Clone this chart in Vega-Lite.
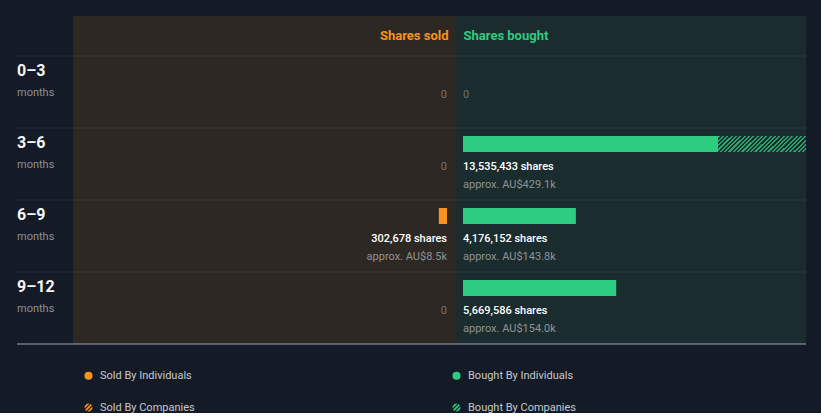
{
  "$schema": "https://vega.github.io/schema/vega-lite/v6.json",
  "background": "#151b26",
  "padding": {"left": 16, "top": 16, "right": 16, "bottom": 0},
  "config": {
    "view": {"stroke": null},
    "font": "Roboto",
    "legend": {
      "orient": "none",
      "legendX": 66,
      "legendY": 354,
      "columns": 2,
      "columnPadding": 256,
      "rowPadding": 20,
      "labelFont": "Roboto",
      "labelFontSize": 11,
      "labelColor": "#c5c9ce",
      "labelOffset": 6,
      "symbolSize": 66,
      "symbolStrokeWidth": 0,
      "symbolOpacity": 1
    }
  },
  "datasets": {
    "periods": [
      {"period": "0–3", "sold": 0, "soldValue": 0, "boughtInd": 0, "bought": 0, "boughtValue": 0},
      {"period": "3–6", "sold": 0, "soldValue": 0, "boughtInd": 9435000, "bought": 13535433, "boughtValue": 429100},
      {"period": "6–9", "sold": 302678, "soldValue": 8500, "boughtInd": 4176152, "bought": 4176152, "boughtValue": 143800},
      {"period": "9–12", "sold": 0, "soldValue": 0, "boughtInd": 5669586, "bought": 5669586, "boughtValue": 154000}
    ],
    "legendItems": [
      {"type": "Sold By Individuals"},
      {"type": "Sold By Companies"},
      {"type": "Bought By Individuals"},
      {"type": "Bought By Companies"}
    ]
  },
  "spacing": 0,
  "bounds": "flush",
  "vconcat": [
    {
      "spacing": 0,
      "bounds": "flush",
      "hconcat": [
        {
          "width": 56,
          "height": 328,
          "data": {"name": "periods"},
          "encoding": {
            "y": {"field": "period", "type": "nominal", "axis": null,
                  "scale": {"domain": ["0–3", "3–6", "6–9", "9–12"], "paddingInner": 0, "paddingOuter": 0.277778, "align": 1}}
          },
          "layer": [
            {
              "mark": {"type": "rule", "color": "#ffffff", "opacity": 0.08},
              "encoding": {"y": {"field": "period", "type": "nominal", "bandPosition": 0, "axis": null}}
            },
            {
              "transform": [{"filter": "datum.period === '9–12'"}],
              "mark": {"type": "rule", "color": "#9ea3a9", "strokeWidth": 1.2},
              "encoding": {"y": {"field": "period", "type": "nominal", "bandPosition": 1, "axis": null}}
            },
            {
              "mark": {"type": "text", "align": "left", "baseline": "alphabetic", "dy": -16, "fontSize": 16, "fontWeight": "bold", "color": "#f5f6f7"},
              "encoding": {"x": {"value": 0}, "text": {"field": "period"}}
            },
            {
              "mark": {"type": "text", "align": "left", "baseline": "alphabetic", "dy": 4, "fontSize": 11, "color": "#8c9096", "text": "months"},
              "encoding": {"x": {"value": 0}}
            }
          ]
        },
        {
          "width": 383,
          "height": 328,
          "view": {"fill": "#2d2823"},
          "data": {"name": "periods"},
          "encoding": {
            "y": {"field": "period", "type": "nominal", "axis": null,
                  "scale": {"domain": ["0–3", "3–6", "6–9", "9–12"], "paddingInner": 0, "paddingOuter": 0.277778, "align": 1}}
          },
          "layer": [
            {
              "mark": {"type": "rule", "color": "#ffffff", "opacity": 0.08},
              "encoding": {"y": {"field": "period", "type": "nominal", "bandPosition": 0, "axis": null}}
            },
            {
              "transform": [{"filter": "datum.period === '9–12'"}],
              "mark": {"type": "rule", "color": "#9ea3a9", "strokeWidth": 1.2},
              "encoding": {"y": {"field": "period", "type": "nominal", "bandPosition": 1, "axis": null}}
            },
            {
              "transform": [{"filter": "datum.sold > 0"}],
              "mark": {"type": "bar", "color": "#f7931e", "height": 16, "yOffset": -20},
              "encoding": {
                "x": {"field": "sold", "type": "quantitative",
                      "scale": {"domain": [-333000, 13838000], "reverse": true, "nice": false, "zero": false},
                      "axis": {"orient": "top", "title": "Shares sold", "labels": false, "ticks": false, "domain": false, "grid": false,
                               "titleColor": "#f7931e", "titleFont": "Roboto", "titleFontSize": 13, "titleFontWeight": "bold",
                               "titleAlign": "right", "titleBaseline": "alphabetic", "titleX": 375, "titleY": 23}}
              }
            },
            {
              "transform": [{"filter": "datum.sold > 0"}, {"calculate": "format(datum.sold, ',') + ' shares'", "as": "lbl"}],
              "mark": {"type": "text", "align": "right", "baseline": "alphabetic", "dy": 6, "fontSize": 11, "fontWeight": 500, "color": "#ffffff"},
              "encoding": {"x": {"datum": 0, "type": "quantitative"}, "text": {"field": "lbl"}}
            },
            {
              "transform": [{"filter": "datum.sold > 0"}, {"calculate": "'approx. AU$' + format(datum.soldValue / 1000, '.1f') + 'k'", "as": "val"}],
              "mark": {"type": "text", "align": "right", "baseline": "alphabetic", "dy": 24, "fontSize": 11, "color": "#8e9297"},
              "encoding": {"x": {"datum": 0, "type": "quantitative"}, "text": {"field": "val"}}
            },
            {
              "transform": [{"filter": "datum.sold === 0"}],
              "mark": {"type": "text", "align": "right", "baseline": "alphabetic", "dy": 6, "fontSize": 11, "color": "#6d7075", "text": "0"},
              "encoding": {"x": {"datum": 0, "type": "quantitative"}}
            }
          ]
        },
        {
          "width": 350,
          "height": 328,
          "view": {"fill": "#1a2c2e"},
          "data": {"name": "periods"},
          "encoding": {
            "y": {"field": "period", "type": "nominal", "axis": null,
                  "scale": {"domain": ["0–3", "3–6", "6–9", "9–12"], "paddingInner": 0, "paddingOuter": 0.277778, "align": 1}}
          },
          "layer": [
            {
              "mark": {"type": "rule", "color": "#ffffff", "opacity": 0.08},
              "encoding": {"y": {"field": "period", "type": "nominal", "bandPosition": 0, "axis": null}}
            },
            {
              "transform": [{"filter": "datum.period === '9–12'"}],
              "mark": {"type": "rule", "color": "#9ea3a9", "strokeWidth": 1.2},
              "encoding": {"y": {"field": "period", "type": "nominal", "bandPosition": 1, "axis": null}}
            },
            {
              "transform": [{"filter": "datum.boughtInd > 0"}],
              "mark": {"type": "bar", "color": "#2ecc80", "height": 16, "yOffset": -20},
              "encoding": {
                "x": {"field": "boughtInd", "type": "quantitative",
                      "scale": {"domain": [-259000, 12691000], "nice": false, "zero": false, "clamp": true},
                      "axis": {"orient": "top", "title": "Shares bought", "labels": false, "ticks": false, "domain": false, "grid": false,
                               "titleColor": "#2ecc80", "titleFont": "Roboto", "titleFontSize": 13, "titleFontWeight": "bold",
                               "titleAlign": "left", "titleBaseline": "alphabetic", "titleX": 7, "titleY": 23}}
              }
            },
            {
              "transform": [{"filter": "datum.bought > datum.boughtInd"}],
              "mark": {"type": "bar", "height": 16, "yOffset": -20,
                "fill": {"gradient": "linear", "x1": 0, "y1": 0, "x2": 1.1452, "y2": 0.2106, "stops": [
{"offset":0,"color":"#2aa36b"},{"offset":0.0208,"color":"#2aa36b"},{"offset":0.0208,"color":"#1a2c2e"},{"offset":0.0417,"color":"#1a2c2e"},
{"offset":0.0417,"color":"#2aa36b"},{"offset":0.0625,"color":"#2aa36b"},{"offset":0.0625,"color":"#1a2c2e"},{"offset":0.0833,"color":"#1a2c2e"},
{"offset":0.0833,"color":"#2aa36b"},{"offset":0.1042,"color":"#2aa36b"},{"offset":0.1042,"color":"#1a2c2e"},{"offset":0.125,"color":"#1a2c2e"},
{"offset":0.125,"color":"#2aa36b"},{"offset":0.1458,"color":"#2aa36b"},{"offset":0.1458,"color":"#1a2c2e"},{"offset":0.1667,"color":"#1a2c2e"},
{"offset":0.1667,"color":"#2aa36b"},{"offset":0.1875,"color":"#2aa36b"},{"offset":0.1875,"color":"#1a2c2e"},{"offset":0.2083,"color":"#1a2c2e"},
{"offset":0.2083,"color":"#2aa36b"},{"offset":0.2292,"color":"#2aa36b"},{"offset":0.2292,"color":"#1a2c2e"},{"offset":0.25,"color":"#1a2c2e"},
{"offset":0.25,"color":"#2aa36b"},{"offset":0.2708,"color":"#2aa36b"},{"offset":0.2708,"color":"#1a2c2e"},{"offset":0.2917,"color":"#1a2c2e"},
{"offset":0.2917,"color":"#2aa36b"},{"offset":0.3125,"color":"#2aa36b"},{"offset":0.3125,"color":"#1a2c2e"},{"offset":0.3333,"color":"#1a2c2e"},
{"offset":0.3333,"color":"#2aa36b"},{"offset":0.3542,"color":"#2aa36b"},{"offset":0.3542,"color":"#1a2c2e"},{"offset":0.375,"color":"#1a2c2e"},
{"offset":0.375,"color":"#2aa36b"},{"offset":0.3958,"color":"#2aa36b"},{"offset":0.3958,"color":"#1a2c2e"},{"offset":0.4167,"color":"#1a2c2e"},
{"offset":0.4167,"color":"#2aa36b"},{"offset":0.4375,"color":"#2aa36b"},{"offset":0.4375,"color":"#1a2c2e"},{"offset":0.4583,"color":"#1a2c2e"},
{"offset":0.4583,"color":"#2aa36b"},{"offset":0.4792,"color":"#2aa36b"},{"offset":0.4792,"color":"#1a2c2e"},{"offset":0.5,"color":"#1a2c2e"},
{"offset":0.5,"color":"#2aa36b"},{"offset":0.5208,"color":"#2aa36b"},{"offset":0.5208,"color":"#1a2c2e"},{"offset":0.5417,"color":"#1a2c2e"},
{"offset":0.5417,"color":"#2aa36b"},{"offset":0.5625,"color":"#2aa36b"},{"offset":0.5625,"color":"#1a2c2e"},{"offset":0.5833,"color":"#1a2c2e"},
{"offset":0.5833,"color":"#2aa36b"},{"offset":0.6042,"color":"#2aa36b"},{"offset":0.6042,"color":"#1a2c2e"},{"offset":0.625,"color":"#1a2c2e"},
{"offset":0.625,"color":"#2aa36b"},{"offset":0.6458,"color":"#2aa36b"},{"offset":0.6458,"color":"#1a2c2e"},{"offset":0.6667,"color":"#1a2c2e"},
{"offset":0.6667,"color":"#2aa36b"},{"offset":0.6875,"color":"#2aa36b"},{"offset":0.6875,"color":"#1a2c2e"},{"offset":0.7083,"color":"#1a2c2e"},
{"offset":0.7083,"color":"#2aa36b"},{"offset":0.7292,"color":"#2aa36b"},{"offset":0.7292,"color":"#1a2c2e"},{"offset":0.75,"color":"#1a2c2e"},
{"offset":0.75,"color":"#2aa36b"},{"offset":0.7708,"color":"#2aa36b"},{"offset":0.7708,"color":"#1a2c2e"},{"offset":0.7917,"color":"#1a2c2e"},
{"offset":0.7917,"color":"#2aa36b"},{"offset":0.8125,"color":"#2aa36b"},{"offset":0.8125,"color":"#1a2c2e"},{"offset":0.8333,"color":"#1a2c2e"},
{"offset":0.8333,"color":"#2aa36b"},{"offset":0.8542,"color":"#2aa36b"},{"offset":0.8542,"color":"#1a2c2e"},{"offset":0.875,"color":"#1a2c2e"},
{"offset":0.875,"color":"#2aa36b"},{"offset":0.8958,"color":"#2aa36b"},{"offset":0.8958,"color":"#1a2c2e"},{"offset":0.9167,"color":"#1a2c2e"},
{"offset":0.9167,"color":"#2aa36b"},{"offset":0.9375,"color":"#2aa36b"},{"offset":0.9375,"color":"#1a2c2e"},{"offset":0.9583,"color":"#1a2c2e"},
{"offset":0.9583,"color":"#2aa36b"},{"offset":0.9792,"color":"#2aa36b"},{"offset":0.9792,"color":"#1a2c2e"},{"offset":1,"color":"#1a2c2e"}
                ]}},
              "encoding": {
                "x": {"field": "boughtInd", "type": "quantitative"},
                "x2": {"field": "bought"}
              }
            },
            {
              "transform": [{"filter": "datum.bought > 0"}, {"calculate": "format(datum.bought, ',') + ' shares'", "as": "lbl"}],
              "mark": {"type": "text", "align": "left", "baseline": "alphabetic", "dy": 6, "fontSize": 11, "fontWeight": 500, "color": "#ffffff"},
              "encoding": {"x": {"datum": 0, "type": "quantitative"}, "text": {"field": "lbl"}}
            },
            {
              "transform": [{"filter": "datum.bought > 0"}, {"calculate": "'approx. AU$' + format(datum.boughtValue / 1000, '.1f') + 'k'", "as": "val"}],
              "mark": {"type": "text", "align": "left", "baseline": "alphabetic", "dy": 24, "fontSize": 11, "color": "#8e9297"},
              "encoding": {"x": {"datum": 0, "type": "quantitative"}, "text": {"field": "val"}}
            },
            {
              "transform": [{"filter": "datum.bought === 0"}],
              "mark": {"type": "text", "align": "left", "baseline": "alphabetic", "dy": 6, "fontSize": 11, "color": "#6d7075", "text": "0"},
              "encoding": {"x": {"datum": 0, "type": "quantitative"}}
            }
          ]
        }
      ]
    },
    {
      "width": 789,
      "height": 76,
      "data": {"name": "legendItems"},
      "mark": {"type": "point", "filled": true, "opacity": 0, "size": 66},
      "encoding": {
        "color": {"field": "type", "type": "nominal",
                  "scale": {"domain": ["Sold By Individuals", "Sold By Companies", "Bought By Individuals", "Bought By Companies"],
                            "range": ["#f7931e", "#f7931e", "#2ecc80", "#2ecc80"]},
                  "legend": {"title": null, "encode": {"symbols": {"update": {"opacity": {"value": 1}, "fillOpacity": {"value": 1}}}}}},
        "shape": {"field": "type", "type": "nominal",
                  "scale": {"domain": ["Sold By Individuals", "Sold By Companies", "Bought By Individuals", "Bought By Companies"],
                            "range": ["circle",
                                      "M-0.93,-0.37L-0.37,-0.93L0.26,-0.96L-0.96,0.26ZM-0.84,0.54L0.54,-0.84L0.84,-0.54L-0.54,0.84ZM0.93,0.37L0.37,0.93L-0.26,0.96L0.96,-0.26Z",
                                      "circle",
                                      "M-0.93,-0.37L-0.37,-0.93L0.26,-0.96L-0.96,0.26ZM-0.84,0.54L0.54,-0.84L0.84,-0.54L-0.54,0.84ZM0.93,0.37L0.37,0.93L-0.26,0.96L0.96,-0.26Z"]},
                  "legend": {"title": null}}
      }
    }
  ]
}
